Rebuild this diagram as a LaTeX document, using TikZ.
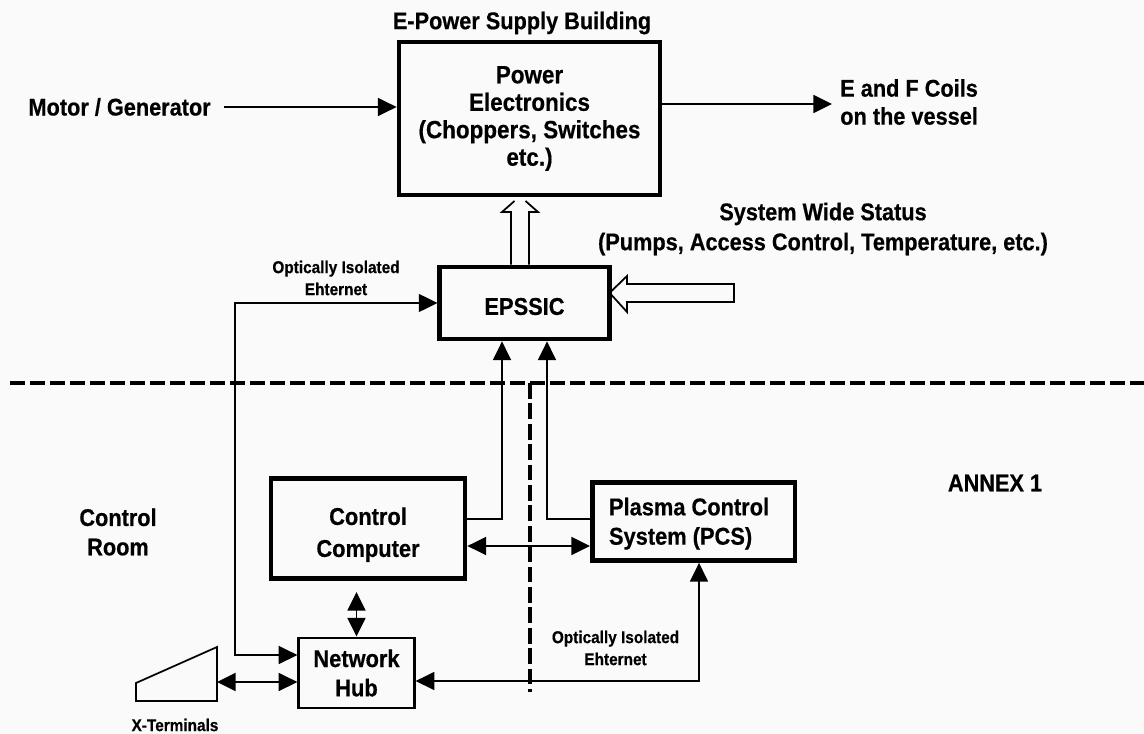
\documentclass[tikz,border=0pt]{standalone}
\usepackage{fontspec}
\setmainfont{Liberation Sans}[FakeStretch=0.9,BoldFeatures={FakeBold=0.5}]
\usetikzlibrary{arrows.meta}
\definecolor{paper}{HTML}{FAFAFA}
\tikzset{
 x=0.75pt,y=-0.75pt,
 thickbox/.style={draw=black,line width=3.6pt,inner sep=0pt,align=center,font=\fontsize{18.2}{22}\selectfont\bfseries},
 thinbox/.style={draw=black,line width=1.7pt,inner sep=0pt,align=center,font=\fontsize{18.2}{22}\selectfont\bfseries},
 label/.style={inner sep=0pt,align=center,font=\fontsize{18.1}{22}\selectfont\bfseries},
 small/.style={inner sep=0pt,align=center,font=\fontsize{12.8}{16.5}\selectfont\bfseries},
 conn/.style={line width=1.25pt,-{Triangle[length=14pt,width=13.5pt]}},
 dconn/.style={line width=1.25pt,{Triangle[length=14pt,width=13.5pt]}-{Triangle[length=14pt,width=13.5pt]}},
 hollow/.style={line width=1.3pt,line join=miter},
 divider/.style={line width=3pt,dash pattern=on 11.5pt off 3.5pt},
 dividerv/.style={line width=3pt,dash pattern=on 11.8pt off 3.5pt},
}
\begin{document}
\begin{tikzpicture}
\fill[paper] (0,0) rectangle (1144,734);
\useasboundingbox (0,0) rectangle (1144,734);
\node[thickbox,minimum width=195.75pt,minimum height=114.75pt,font=\fontsize{18.7}{20.6}\selectfont\bfseries] (power) at (529.5,118.5) {Power\\Electronics\\(Choppers, Switches\\etc.)};
\node[thickbox,minimum width=127pt,minimum height=54pt] (epssic) at (524.5,303) {\rule{0pt}{18pt}EPSSIC};
\node[thickbox,minimum width=145.5pt,minimum height=75.5pt,font=\fontsize{18.2}{24}\selectfont\bfseries] (cc) at (368,528.5) {\rule{0pt}{22.4pt}Control\\Computer};
\node[thickbox,minimum width=152pt,minimum height=58.5pt,align=left] (pcs) at (693.75,521.5) {\rule{0pt}{16.5pt}Plasma Control\hspace*{7pt}\\System (PCS)};
\node[thinbox,minimum width=87pt,minimum height=53pt] (hub) at (356.5,673) {Network\\Hub};
\node[label] (supply) at (522,23) {E-Power Supply Building};
\node[label,anchor=east] (motor) at (211,107) {Motor / Generator};
\node[label,anchor=west,align=left,font=\fontsize{18.1}{21}\selectfont\bfseries] (coils) at (840,102) {E and F Coils\\on the vessel};
\node[label,font=\fontsize{18.1}{22.5}\selectfont\bfseries] (status) at (823,229) {System Wide Status\\(Pumps, Access Control, Temperature, etc.)};
\node[label] (annex) at (995,483) {ANNEX 1};
\node[label] (room) at (118,532) {Control\\Room};
\node[small] (opt1) at (336,278) {Optically Isolated\\Ehternet};
\node[small] (opt2) at (615.5,648) {Optically Isolated\\Ehternet};
\node[small] (xt) at (175,725) {X-Terminals};
% named free ends and bends
\coordinate (mstart) at (224,107);
\coordinate (cend) at (832,104);
\coordinate (optcorner) at (235,303);
\coordinate (hubin) at (298,655);
\coordinate (term) at (217,682);
\coordinate (hubtop) at (356.5,592);
\coordinate (hubpcs) at (415,681);
\coordinate (pcscorner) at (699,681);
\coordinate (divL) at (10,383);
\coordinate (divR) at (1144,383);
\coordinate (divT) at (530,383);
\coordinate (divB) at (530,692);
\coordinate (feedA) at (502,519);
\coordinate (feedB) at (547,519);
\coordinate (ccpcs) at (530,546);
% divider
\draw[divider] (divL) -- (divR);
\draw[dividerv] (divT) -- (divB);
% top arrows
\draw[conn] (mstart) -- (power.west |- mstart);
\draw[conn] (power.east |- cend) -- (cend);
% terminal
\draw[line width=1.3pt,line join=miter] (136,683) -- (217,647) -- (217,701) -- (136,701) -- cycle;
% ethernet
\draw[dconn] (epssic.west |- optcorner) -- (optcorner) |- (hub.west |- hubin);
\draw[dconn] (term) -- (hub.west |- term);
% hub links
\draw[dconn] (hubtop) -- (hub.north);
\draw[dconn] (hub.east |- hubpcs) -- (pcscorner) -- (pcs.south -| pcscorner);
% EPSSIC feeders
\draw[conn] (cc.east |- feedA) -- (feedA) -- (epssic.south -| feedA);
\draw[conn] (pcs.west |- feedB) -- (feedB) -- (epssic.south -| feedB);
\draw[dconn] (cc.east |- ccpcs) -- (pcs.west |- ccpcs);
% hollow arrows
\draw[hollow] (epssic.north -| 511,0) -- (511,212) -- (502,212) -- (514.5,201);
\draw[hollow] (epssic.north -| 529,0) -- (529,212) -- (538,212) -- (525.5,201);
\draw[hollow] (epssic.east |- 0,291) -- (627,276) -- (627,284) -- (734,284) -- (734,302) -- (627,302) -- (627,312) -- (epssic.east |- 0,295);
\end{tikzpicture}
\end{document}
